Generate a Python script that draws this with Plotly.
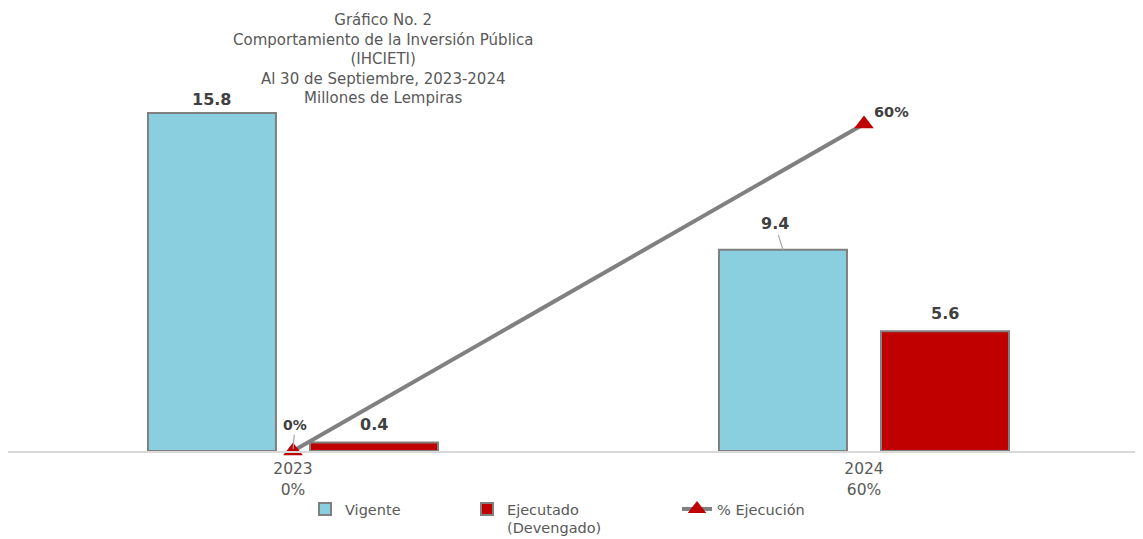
import plotly.graph_objects as go

years = ["2023", "2024"]
tick_labels = ["2023<br>0%", "2024<br>60%"]
vigente = [15.8, 9.4]
ejecutado = [0.4, 5.6]
pct_ejec = [0, 60]
pct_labels = ["0%", "60%"]

FONT = "DejaVu Sans"
GRAY_TXT = "#595959"
DARK = "#404040"

# page body adds an 8px margin: work in figure pixels = screen pixels - 8
OFF = 8
W, H = 1143 - OFF, 539 - OFF
ml, mr = 0, 0
base_fig = 451 - OFF
mt = 62
mb = H - base_fig
pw = W - ml - mr
ph = H - mt - mb
px_per_cat = 571.0
c0 = 293 - OFF
r0 = -(c0 - ml) / px_per_cat
r1 = r0 + pw / px_per_cat
bw = 128 / px_per_cat

fig = go.Figure()
fig.add_trace(go.Bar(
    x=[0, 1], y=vigente, name="Vigente", legend="legend",
    width=[bw, bw], offset=[-0.254, -0.254],
    marker=dict(color="#89CFDF", line=dict(color="#808080", width=2)),
))
fig.add_trace(go.Bar(
    x=[0, 1], y=ejecutado, name="Ejecutado<br>(Devengado)", legend="legend2",
    width=[bw, bw], offset=[0.0298, 0.0298],
    marker=dict(color="#C00000", line=dict(color="#808080", width=2)),
))
fig.add_trace(go.Scatter(
    x=[0, 1], y=pct_ejec, name="% Ejecución", yaxis="y2", legend="legend3",
    mode="lines+markers",
    line=dict(color="#808080", width=4),
    marker=dict(symbol="triangle-up", size=17, color="#C00000"),
    cliponaxis=False,
))

ymax = ph / 21.4
y2max = 60 * ph / 327

ann = []
for i, v in enumerate(vigente):
    if i == 1:
        ann.append(dict(x=i - 0.254 + bw / 2, y=v, xref="x", yref="y", text=f"<b>{v:.1f}</b>",
                        showarrow=True, arrowhead=0, arrowwidth=1.2, arrowcolor="#A6A6A6",
                        ax=-8, ay=-26, standoff=0, font=dict(size=16, color=DARK, family=FONT)))
    else:
        ann.append(dict(x=i - 0.254 + bw / 2, y=v, xref="x", yref="y", text=f"<b>{v:.1f}</b>",
                        showarrow=False, yanchor="bottom", yshift=2,
                        font=dict(size=16, color=DARK, family=FONT)))
for i, v in enumerate(ejecutado):
    ann.append(dict(x=i + 0.0298 + bw / 2, y=v, xref="x", yref="y", text=f"<b>{v:.1f}</b>",
                    showarrow=False, yanchor="bottom", yshift=6,
                    font=dict(size=16, color=DARK, family=FONT)))
ann.append(dict(x=0, y=pct_ejec[0], xref="x", yref="y2", text=f"<b>{pct_labels[0]}</b>",
                showarrow=True, arrowhead=0, arrowwidth=1.2, arrowcolor="#A6A6A6",
                ax=2, ay=-26, standoff=2, font=dict(size=14, color=DARK, family=FONT)))
ann.append(dict(x=1, y=pct_ejec[1], xref="x", yref="y2", text=f"<b>{pct_labels[1]}</b>",
                showarrow=False, xanchor="left", yanchor="bottom", xshift=8, yshift=2,
                font=dict(size=14.5, color=DARK, family=FONT)))


def px_x(sx):
    return (sx - OFF - ml) / pw


def px_y(sy):
    return (base_fig - (sy - OFF)) / ph


ann.append(dict(x=px_x(383), y=px_y(9), xref="paper", yref="paper",
                xanchor="center", yanchor="top", showarrow=False, align="center",
                text="Gráfico No. 2<br>Comportamiento de la Inversión Pública<br>(IHCIETI)<br>Al 30 de Septiembre, 2023-2024<br>Millones de Lempiras",
                font=dict(size=15, color=GRAY_TXT, family=FONT)))

leg_common = dict(orientation="h", xanchor="left", yanchor="top",
                  font=dict(size=14.5, color=GRAY_TXT, family=FONT),
                  bgcolor="rgba(0,0,0,0)", y=px_y(493))

fig.update_layout(
    width=W, height=H,
    margin=dict(l=ml, r=mr, t=mt, b=mb, autoexpand=False),
    paper_bgcolor="white", plot_bgcolor="white",
    barmode="overlay",
    showlegend=True,
    legend=dict(x=px_x(305), **leg_common),
    legend2=dict(x=px_x(467), valign="top", **leg_common),
    legend3=dict(x=px_x(677), **leg_common),
    xaxis=dict(range=[r0, r1], tickmode="array", tickvals=[0, 1], ticktext=tick_labels,
               showgrid=False, zeroline=False, showline=True, linecolor="#D9D9D9", linewidth=1.5,
               ticks="", ticklabelstandoff=3,
               tickfont=dict(size=15.5, color=GRAY_TXT, family=FONT)),
    yaxis=dict(range=[0, ymax], visible=False, showgrid=False),
    yaxis2=dict(range=[0, y2max], overlaying="y", side="right", visible=False, showgrid=False),
    annotations=ann,
    font=dict(family=FONT),
)

fig.write_html("out.html")
